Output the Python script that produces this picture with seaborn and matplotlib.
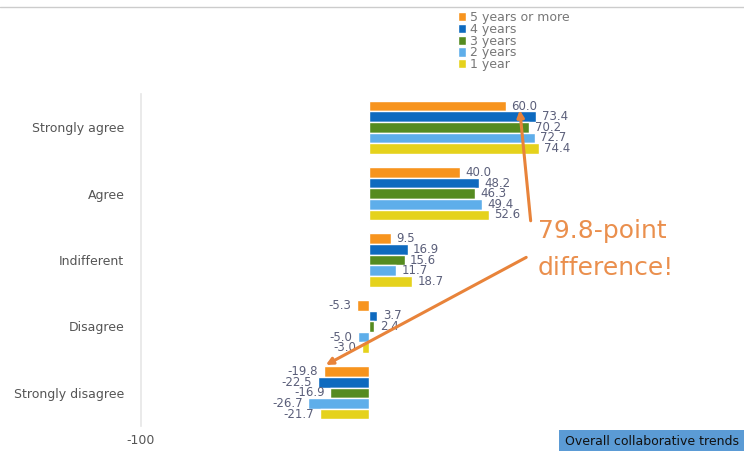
import pandas as pd
import matplotlib
matplotlib.use("Agg")
import matplotlib.pyplot as plt
import seaborn as sns

# survey answers (top to bottom)
responses = ["Strongly agree", "Agree", "Indifferent", "Disagree", "Strongly disagree"]
groups = ["5 years or more", "4 years", "3 years", "2 years", "1 year"]

# values per group, in order of responses
five_plus = [60.0, 40.0, 9.5, -5.3, -19.8]
four_years = [73.4, 48.2, 16.9, 3.7, -22.5]
three_years = [70.2, 46.3, 15.6, 2.4, -16.9]
two_years = [72.7, 49.4, 11.7, -5.0, -26.7]
one_year = [74.4, 52.6, 18.7, -3.0, -21.7]

palette = ["#f7941e", "#0e6abf", "#558b20", "#5eaeea", "#e5d21c"]

series = [five_plus, four_years, three_years, two_years, one_year]
rows = []
for g, vals in zip(groups, series):
    for r, v in zip(responses, vals):
        rows.append({"Response": r, "Group": g, "Value": v})
df = pd.DataFrame(rows)

sns.set_theme(style="white")
plt.rcParams["font.family"] = ["DejaVu Sans"]

fig = plt.figure(figsize=(7.44, 4.51), dpi=100)
ax = fig.add_axes([0.1895, 0.0554, 0.613, 0.736])

sns.barplot(data=df, y="Response", x="Value", hue="Group", order=responses,
            hue_order=groups, palette=palette, orient="h", errorbar=None,
            width=0.8, saturation=1, ax=ax)

for cont in ax.containers:
    ax.bar_label(cont, fmt="%.1f", padding=4, fontsize=8.5, color="#5b5f7a")

ax.set_xlim(-100, 100)
ax.set_xticks([-100])
ax.set_xticklabels(["-100"], fontsize=9, color="#555555")
ax.tick_params(axis="both", length=0, pad=6)
ax.tick_params(axis="y", labelsize=9, labelcolor="#555555", pad=12)
ax.set_xlabel("")
ax.set_ylabel("")
for s in ["top", "right", "bottom"]:
    ax.spines[s].set_visible(False)
ax.spines["left"].set_color("#e6e6e6")
ax.spines["left"].set_linewidth(1.2)

leg = ax.legend(loc="upper left", bbox_to_anchor=(0.685, 1.265), frameon=False,
                fontsize=9, handlelength=0.6, handleheight=0.75, handletextpad=0.3,
                labelspacing=-0.1, borderaxespad=0)
for t in leg.get_texts():
    t.set_color("#777777")

# callout
orange = "#e8833a"
ax.text(74, 1.84, "79.8-point\ndifference!", color=orange, fontsize=18,
        ha="left", va="center", linespacing=1.7, alpha=0.9)
ax.annotate("", xy=(66, -0.3), xytext=(71, 1.45),
            arrowprops=dict(arrowstyle="-|>", color=orange, lw=2.2, mutation_scale=10))
ax.annotate("", xy=(-20, 3.6), xytext=(70, 1.94),
            arrowprops=dict(arrowstyle="-|>", color=orange, lw=2.2, mutation_scale=10))

# top rule and footer tag
fig.add_artist(plt.Line2D([0, 1], [0.984, 0.984], color="#cccccc", lw=1))
fig.text(0.993, 0.02, "Overall collaborative trends", fontsize=9, color="#111111",
         ha="right", va="center",
         bbox=dict(boxstyle="square,pad=0.45", fc="#5b9bd5", ec="none"))

fig.savefig("out.png", dpi=100)
